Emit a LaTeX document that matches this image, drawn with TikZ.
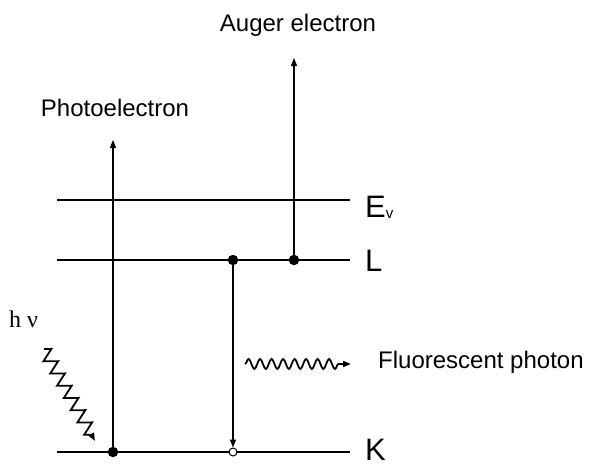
\documentclass[tikz,border=0pt]{standalone}
\usepackage{fontspec}
\setmainfont{Liberation Sans}
\newfontfamily\seriffont{Liberation Serif}
\usetikzlibrary{arrows.meta,decorations.pathmorphing}
\begin{document}
\begin{tikzpicture}[x=1pt,y=-1pt,
  level/.style={line width=1.4pt},
  vline/.style={line width=1.2pt},
  tip/.style={-{Triangle[length=8pt,width=6pt]}},
  fdot/.style={circle,fill=black,inner sep=0pt,minimum size=10.5pt},
  odot/.style={circle,draw=black,fill=white,line width=1pt,inner sep=0pt,minimum size=8pt},
  lbl/.style={font=\fontsize{24}{28}\selectfont,inner sep=0pt},
  big/.style={font=\fontsize{31}{34}\selectfont,inner sep=0pt,anchor=base west},
  wave/.style={line width=1.8pt,decorate}]
\useasboundingbox (0,0) rectangle (592,464);
% levels
\coordinate (evl) at (57,200); \coordinate (evr) at (350,200);
\coordinate (ll) at (57,260);  \coordinate (lr) at (350,260);
\coordinate (kl) at (57,452);  \coordinate (kr) at (350,452);
\draw[level] (evl) -- (evr);
\draw[level] (ll) -- (lr);
\draw[level] (kl) -- (kr);
% labels of levels
\node[big] (ev) at (365,217) {E\raisebox{-0.1ex}{\fontsize{15}{15}\selectfont v}};
\node[big] (L) at (365,271) {L};
\node[big] (K) at (365,460) {K};
% dots
\node[fdot] (k1) at (113,452) {};
\node[fdot] (l1) at (233,260) {};
\node[fdot] (l2) at (294,260) {};
\node[odot] (k2) at (233,452) {};
% arrows
\coordinate (pe) at (113,140);
\coordinate (ae) at (294,58);
\draw[vline,tip] (k1) -- (pe);
\draw[vline,tip] (l2) -- (ae);
\draw[vline,tip] (l1) -- (k2);
% texts
\node[lbl] (ptxt) at (115,108) {Photoelectron};
\node[lbl] (atxt) at (298,25) {Auger electron};
\node[lbl,anchor=west] (ftxt) at (378,362) {Fluorescent photon};
\node[inner sep=0pt,anchor=base west,font=\seriffont\fontsize{24}{26}\selectfont] (hv) at (9,327) {h ν};
% wavy arrows
\coordinate (hs) at (44,349);
\coordinate (he) at (95,441);
\draw[wave,tip,decoration={zigzag,segment length=14pt,amplitude=6.5pt,post length=4pt}] (hs) -- (he);
\coordinate (fs) at (245,364);
\coordinate (fe) at (351,364);
\draw[wave,tip,decoration={snake,segment length=11.5pt,amplitude=5pt,post length=12pt}] (fs) -- (fe);
\end{tikzpicture}
\end{document}
